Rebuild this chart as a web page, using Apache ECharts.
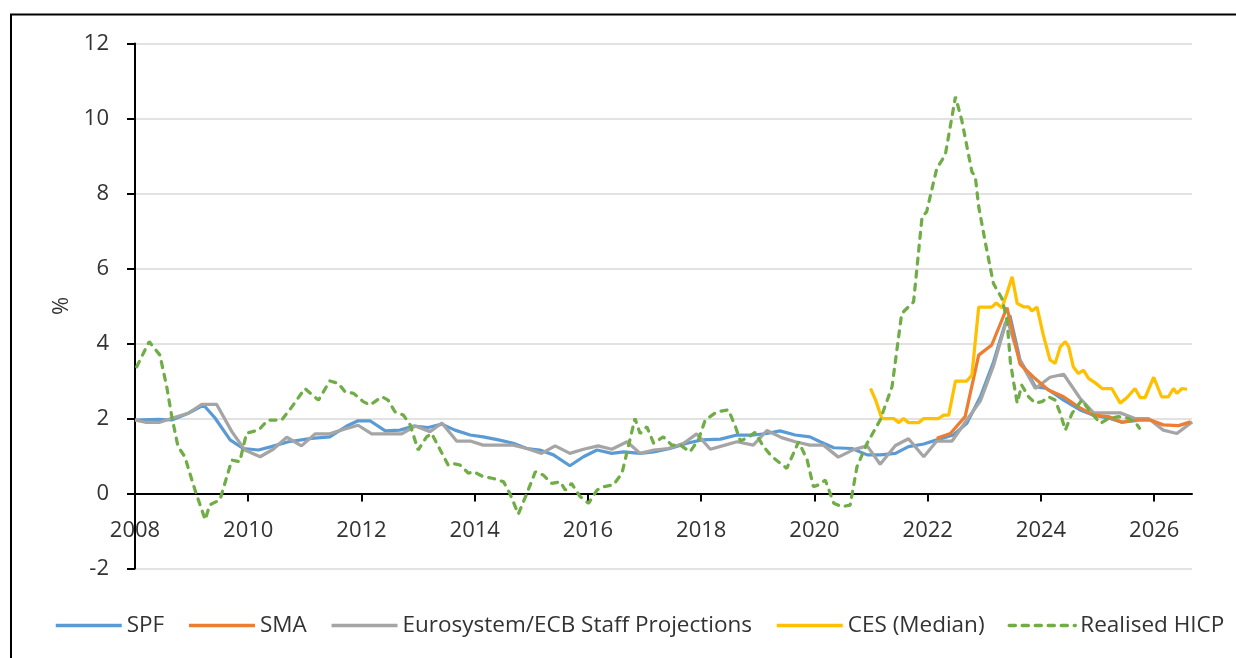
<!DOCTYPE html>
<html lang="en">
<head>
    <meta charset="UTF-8">
    <title>Inflation expectations</title>
    <script src="https://cdn.jsdelivr.net/npm/echarts/dist/echarts.min.js"></script>
    <style>
        html, body { margin: 0; padding: 0; background: #fff; }
        #chart { width: 1236px; height: 658px; }
    </style>
</head>
<body>
    <div id="chart"></div>

    <script>
        // x values are decimal years, y values in %
        var xTicks = [2008, 2010, 2012, 2014, 2016, 2018, 2020, 2022, 2024, 2026];

        var spfYears = [2008.00,2008.41,2008.65,2008.94,2009.21,2009.41,2009.68,2009.91,2010.18,2010.41,
            2010.71,2011.12,2011.44,2011.74,2011.94,2012.15,2012.42,2012.68,2012.92,2013.18,
            2013.42,2013.65,2013.92,2014.15,2014.42,2014.68,2014.92,2015.15,2015.39,2015.68,
            2015.92,2016.16,2016.42,2016.63,2016.92,2017.16,2017.45,2017.75,2018.01,2018.34,
            2018.63,2018.92,2019.16,2019.39,2019.66,2019.92,2020.10,2020.34,2020.66,2020.93,
            2021.16,2021.43,2021.66,2021.93,2022.16,2022.45,2022.69,2022.93,2023.16,2023.37,
            2023.45,2023.63,2023.90,2024.10,2024.40,2024.69,2024.93,2025.22,2025.43,2025.70];
        var spfValues = [1.96,1.98,1.96,2.14,2.36,2.02,1.43,1.20,1.16,1.25,
            1.38,1.47,1.51,1.80,1.94,1.94,1.67,1.69,1.80,1.76,
            1.85,1.69,1.56,1.51,1.43,1.34,1.20,1.16,1.03,0.74,
            0.98,1.16,1.07,1.11,1.07,1.11,1.20,1.34,1.43,1.45,
            1.56,1.56,1.60,1.67,1.56,1.51,1.38,1.22,1.20,1.03,
            1.03,1.07,1.25,1.32,1.43,1.56,1.87,2.58,3.50,4.54,
            4.75,3.56,2.85,2.80,2.49,2.23,2.09,2.00,1.90,1.95];

        var smaYears = [2022.16,2022.40,2022.66,2022.90,2023.13,2023.40,2023.63,2023.87,2024.13,2024.40,
            2024.66,2024.93,2025.19,2025.43,2025.69,2025.93,2026.16,2026.43,2026.64];
        var smaValues = [1.47,1.60,2.05,3.69,3.96,4.96,3.45,3.10,2.76,2.58,
            2.31,2.09,2.05,1.90,1.96,1.96,1.83,1.81,1.91];

        var ecbYears = [2008.00,2008.18,2008.44,2008.68,2008.94,2009.18,2009.44,2009.71,2009.94,2010.21,
            2010.44,2010.68,2010.94,2011.18,2011.44,2011.68,2011.94,2012.18,2012.45,2012.71,
            2012.95,2013.21,2013.42,2013.68,2013.92,2014.15,2014.42,2014.68,2014.92,2015.18,
            2015.42,2015.68,2015.92,2016.18,2016.42,2016.69,2016.92,2017.16,2017.42,2017.69,
            2017.92,2018.16,2018.42,2018.63,2018.92,2019.16,2019.42,2019.66,2019.92,2020.16,
            2020.42,2020.69,2020.93,2021.16,2021.43,2021.66,2021.93,2022.16,2022.43,2022.69,
            2022.93,2023.16,2023.40,2023.63,2023.90,2024.16,2024.40,2024.69,2024.93,2025.16,
            2025.40,2025.66,2025.90,2026.16,2026.40,2026.67];
        var ecbValues = [1.96,1.90,1.90,2.02,2.14,2.38,2.38,1.65,1.16,0.98,
            1.18,1.50,1.27,1.59,1.59,1.71,1.82,1.59,1.59,1.59,
            1.80,1.65,1.88,1.40,1.40,1.29,1.29,1.29,1.20,1.07,
            1.27,1.07,1.18,1.27,1.18,1.38,1.07,1.16,1.20,1.34,
            1.59,1.18,1.29,1.38,1.29,1.68,1.49,1.38,1.29,1.29,
            0.97,1.17,1.27,0.78,1.28,1.46,0.98,1.40,1.40,1.96,
            2.47,3.40,4.65,3.53,2.80,3.10,3.18,2.54,2.15,2.15,
            2.15,2.00,2.00,1.69,1.60,1.91];

        var cesYears = [2020.99,2021.08,2021.19,2021.40,2021.49,2021.57,2021.66,2021.84,2021.93,2022.19,
            2022.28,2022.37,2022.49,2022.69,2022.78,2022.90,2023.13,2023.21,2023.31,2023.40,
            2023.49,2023.58,2023.69,2023.78,2023.84,2023.93,2024.04,2024.16,2024.25,2024.34,
            2024.43,2024.49,2024.57,2024.66,2024.75,2024.84,2024.96,2025.08,2025.25,2025.40,
            2025.52,2025.66,2025.75,2025.84,2025.99,2026.13,2026.25,2026.34,2026.40,2026.49,
            2026.58];
        var cesValues = [2.80,2.49,2.00,2.00,1.89,2.00,1.89,1.89,2.00,2.00,
            2.09,2.09,3.00,3.00,3.16,4.97,4.97,5.08,4.95,5.34,
            5.78,5.07,4.98,4.98,4.87,4.97,4.23,3.56,3.47,3.91,
            4.05,3.91,3.38,3.20,3.29,3.07,2.95,2.80,2.80,2.41,
            2.56,2.80,2.56,2.56,3.10,2.58,2.58,2.80,2.67,2.80,
            2.78];

        var hicpYears = [2008.03,2008.25,2008.44,2008.56,2008.65,2008.76,2008.88,2009.06,2009.24,2009.32,
            2009.50,2009.71,2009.85,2009.97,2010.18,2010.35,2010.59,2010.77,2011.00,2011.24,
            2011.44,2011.59,2011.71,2011.86,2012.03,2012.15,2012.36,2012.47,2012.59,2012.74,
            2012.86,2013.00,2013.15,2013.24,2013.36,2013.53,2013.62,2013.74,2013.89,2013.98,
            2014.15,2014.33,2014.51,2014.62,2014.77,2014.92,2015.07,2015.21,2015.36,2015.51,
            2015.60,2015.71,2015.86,2016.01,2016.16,2016.27,2016.45,2016.60,2016.74,2016.83,
            2016.92,2017.04,2017.16,2017.33,2017.48,2017.63,2017.80,2017.95,2018.07,2018.28,
            2018.48,2018.60,2018.69,2018.83,2018.95,2019.10,2019.25,2019.51,2019.72,2019.87,
            2019.98,2020.07,2020.19,2020.34,2020.48,2020.63,2020.75,2020.93,2021.16,2021.37,
            2021.54,2021.75,2021.90,2021.98,2022.16,2022.31,2022.49,2022.60,2022.78,2022.84,
            2022.90,2023.02,2023.16,2023.31,2023.40,2023.46,2023.52,2023.58,2023.66,2023.78,
            2023.90,2024.02,2024.13,2024.25,2024.34,2024.43,2024.55,2024.72,2024.87,2025.05,
            2025.19,2025.37,2025.55,2025.66,2025.74];
        var hicpValues = [3.38,4.05,3.69,2.85,2.05,1.25,0.98,0.09,-0.70,-0.30,
            -0.17,0.89,0.85,1.61,1.69,1.96,1.96,2.31,2.80,2.49,
            3.00,2.94,2.71,2.67,2.45,2.36,2.58,2.49,2.18,2.09,
            1.83,1.16,1.51,1.60,1.25,0.76,0.80,0.76,0.54,0.58,
            0.45,0.40,0.31,0.00,-0.55,0.00,0.58,0.49,0.27,0.31,
            0.09,0.27,-0.08,-0.26,0.09,0.18,0.23,0.54,1.43,2.00,
            1.60,1.78,1.34,1.51,1.29,1.29,1.11,1.43,1.96,2.18,
            2.23,1.80,1.40,1.50,1.63,1.25,0.98,0.67,1.38,0.90,
            0.18,0.23,0.36,-0.26,-0.35,-0.31,0.71,1.34,1.96,2.85,
            4.80,5.11,7.38,7.51,8.67,9.03,10.58,9.96,8.58,8.45,
            7.65,6.67,5.60,5.20,4.63,3.50,2.94,2.41,2.89,2.58,
            2.41,2.45,2.58,2.49,2.14,1.69,2.14,2.49,2.18,1.87,
            2.00,2.05,2.00,1.91,1.74];

        function pairs(xs, ys) {
            return xs.map(function (x, i) { return [x, ys[i]]; });
        }

        var font = 'Open Sans';
        var textColor = '#333';

        var myChart = echarts.init(document.getElementById('chart'));

        var option = {
            animation: false,
            backgroundColor: '#fff',
            graphic: [{
                type: 'rect',
                silent: true,
                shape: { x: 11, y: 14.5, width: 1300, height: 700 },
                style: { fill: 'none', stroke: '#000', lineWidth: 2 }
            }],
            grid: { left: 135, right: 44, top: 43.5, bottom: 89.5 },
            legend: {
                left: 49,
                top: 609,
                itemWidth: 66,
                itemHeight: 14,
                itemGap: 23,
                itemStyle: { opacity: 0 },
                lineStyle: { width: 3.5 },
                textStyle: { fontFamily: font, fontSize: 22.5, color: textColor },
                data: ['SPF', 'SMA', 'Eurosystem/ECB Staff Projections', 'CES (Median)', 'Realised HICP']
            },
            xAxis: {
                type: 'value',
                position: 'bottom',
                // the axis sits on the zero line, 2 units above the grid bottom
                offset: -75,
                min: 2008,
                max: 2026.667,
                interval: 2,
                axisLine: { onZero: false, lineStyle: { color: '#000', width: 2 } },
                axisTick: { length: 8, customValues: xTicks, lineStyle: { color: '#000', width: 2 } },
                axisLabel: {
                    customValues: xTicks,
                    margin: 26,
                    fontFamily: font,
                    fontSize: 22,
                    color: textColor,
                    formatter: function (v) { return String(v); }
                },
                splitLine: { show: false }
            },
            yAxis: {
                type: 'value',
                min: -2,
                max: 12,
                interval: 2,
                name: '%',
                nameLocation: 'middle',
                nameGap: 60,
                nameRotate: 90,
                nameTextStyle: { fontFamily: font, fontSize: 22, color: textColor },
                axisLine: { show: true, onZero: false, lineStyle: { color: '#000', width: 2 } },
                axisTick: { show: true, length: 8, lineStyle: { color: '#000', width: 2 } },
                axisLabel: { margin: 26, fontFamily: font, fontSize: 22, color: textColor },
                splitLine: { lineStyle: { color: '#d9d9d9', width: 1.5 } }
            },
            series: [
                {
                    name: 'SPF',
                    type: 'line',
                    symbol: 'none',
                    data: pairs(spfYears, spfValues),
                    itemStyle: { color: '#5B9BD5' },
                    lineStyle: { color: '#5B9BD5', width: 3.25 }
                },
                {
                    name: 'Eurosystem/ECB Staff Projections',
                    type: 'line',
                    symbol: 'none',
                    data: pairs(ecbYears, ecbValues),
                    itemStyle: { color: '#A5A5A5' },
                    lineStyle: { color: '#A5A5A5', width: 3.25 }
                },
                {
                    name: 'SMA',
                    type: 'line',
                    symbol: 'none',
                    data: pairs(smaYears, smaValues),
                    itemStyle: { color: '#ED7D31' },
                    lineStyle: { color: '#ED7D31', width: 3.25 }
                },
                {
                    name: 'CES (Median)',
                    type: 'line',
                    symbol: 'none',
                    data: pairs(cesYears, cesValues),
                    itemStyle: { color: '#FFC000' },
                    lineStyle: { color: '#FFC000', width: 3.25 }
                },
                {
                    name: 'Realised HICP',
                    type: 'line',
                    symbol: 'none',
                    data: pairs(hicpYears, hicpValues),
                    itemStyle: { color: '#70AD47' },
                    lineStyle: { color: '#70AD47', width: 3.25, type: [6, 7], cap: 'round' }
                }
            ]
        };

        myChart.setOption(option);
    </script>
</body>
</html>
